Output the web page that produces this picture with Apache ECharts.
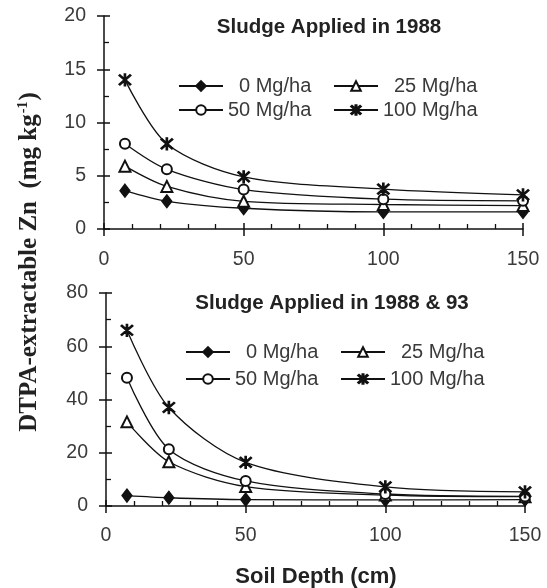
<!DOCTYPE html>
<html>
<head>
<meta charset="utf-8">
<script src="https://cdn.jsdelivr.net/npm/echarts@6/dist/echarts.min.js"></script>
<style>
  html, body { margin: 0; padding: 0; background: #fff; }
  #chart { width: 547px; height: 588px; }
</style>
</head>
<body>
<div id="chart"></div>
<script>
// soil depth of each sample (cm)
var depths = [7.5, 22.5, 50, 100, 150];
var rateNames = ['0 Mg/ha', '25 Mg/ha', '50 Mg/ha', '100 Mg/ha'];

// sludge applied in 1988 (mg/kg)
var top0 = [3.6, 2.6, 1.95, 1.6, 1.6];
var top25 = [5.9, 4.0, 2.6, 2.3, 2.2];
var top50 = [8.0, 5.6, 3.7, 2.8, 2.65];
var top100 = [14.0, 8.0, 4.9, 3.75, 3.2];

// sludge applied in 1988 & 93 (mg/kg)
var bot0 = [3.9, 3.1, 2.4, 2.3, 2.4];
var bot25 = [31.6, 16.6, 7.3, 4.1, 3.5];
var bot50 = [48.2, 21.3, 9.4, 4.5, 3.6];
var bot100 = [66.0, 37.0, 16.4, 7.2, 5.3];

var xTicks = { min: 0, max: 150, interval: 50 };
var yTicksTop = { min: 0, max: 20, interval: 5 };
var yTicksBot = { min: 0, max: 80, interval: 20 };

var ink = '#111';
var labelInk = '#3a3a3a';
var sans = '"Liberation Sans", Arial, sans-serif';
var serif = '"Liberation Serif", "Times New Roman", serif';

// asterisk marker: vertical bar plus two diagonals
var star = 'path://M9,0L11,0L11,20L9,20Z' +
  'M2.7,1.3L18.7,17.3L17.3,18.7L1.3,2.7Z' +
  'M18.7,2.7L2.7,18.7L1.3,17.3L17.3,1.3Z';

var symbols = ['diamond', 'emptyTriangle', 'emptyCircle', star];
var symSizes = [[10, 13], 11, 10, 12];

function axisPair(kind, g, ticks, minorSplit, labelMargin) {
  var base = {
    gridIndex: g, type: 'value',
    min: ticks.min, max: ticks.max, interval: ticks.interval,
    position: kind === 'x' ? 'bottom' : 'left',
    splitLine: { show: false }
  };
  var main = Object.assign({}, base, {
    axisLine: { show: true, onZero: false, lineStyle: { color: ink, width: 1.5 } },
    axisTick: { show: true, inside: true, length: 6, lineStyle: { color: ink, width: 1.5 } },
    minorTick: { show: true, splitNumber: minorSplit, length: 5, lineStyle: { color: ink, width: 1.3 } },
    axisLabel: { margin: labelMargin, fontSize: 19.5, color: labelInk, fontFamily: sans }
  });
  // second copy only draws the outward half of the major ticks
  var outer = Object.assign({}, base, {
    axisLine: { show: false, onZero: false },
    axisTick: { show: true, inside: false, length: 7, lineStyle: { color: ink, width: 1.5 } },
    axisLabel: { show: false }
  });
  return [main, outer];
}

function makeSeries(g, lists) {
  return lists.map(function (vals, i) {
    return {
      type: 'line',
      name: rateNames[i],
      xAxisIndex: g * 2,
      yAxisIndex: g * 2,
      data: depths.map(function (d, k) { return [d, vals[k]]; }),
      smooth: 0.3,
      symbol: symbols[i],
      symbolSize: symSizes[i],
      lineStyle: { color: ink, width: 1.3 },
      itemStyle: { color: ink, borderColor: ink, borderWidth: 1.3 },
      emphasis: { disabled: true },
      z: 3
    };
  });
}

function legendItem(name, left, rowY, pad) {
  return {
    data: [name],
    left: left, top: rowY - 11,
    padding: 0,
    itemWidth: 44, itemHeight: 12,
    selectedMode: false,
    textStyle: { fontSize: 20, color: labelInk, fontFamily: sans, padding: [0, 0, 0, pad] }
  };
}

var chart = echarts.init(document.getElementById('chart'), null, { renderer: 'canvas' });

chart.setOption({
  animation: false,
  backgroundColor: '#fff',
  grid: [
    { left: 104, top: 16, width: 419, height: 213, containLabel: false },
    { left: 106, top: 293, width: 419, height: 213, containLabel: false }
  ],
  xAxis: axisPair('x', 0, xTicks, 5, 21).concat(axisPair('x', 1, xTicks, 5, 20)),
  yAxis: axisPair('y', 0, yTicksTop, 2, 18).concat(axisPair('y', 1, yTicksBot, 2, 18)),
  legend: [
    legendItem(rateNames[0], 178, 87, 11),
    legendItem(rateNames[1], 333, 87, 11),
    legendItem(rateNames[2], 178, 111, 0),
    legendItem(rateNames[3], 333, 111, 0),
    legendItem(rateNames[0], 185, 353, 11),
    legendItem(rateNames[1], 340, 353, 11),
    legendItem(rateNames[2], 185, 380, 0),
    legendItem(rateNames[3], 340, 380, 0)
  ],
  graphic: [
    {
      type: 'text', x: 329, y: 27,
      style: { text: 'Sludge Applied in 1988', font: 'bold 20.5px ' + sans, fill: '#222', align: 'center', verticalAlign: 'middle' }
    },
    {
      type: 'text', x: 332, y: 303,
      style: { text: 'Sludge Applied in 1988 & 93', font: 'bold 20.5px ' + sans, fill: '#222', align: 'center', verticalAlign: 'middle' }
    },
    {
      type: 'text', x: 316, y: 577,
      style: { text: 'Soil Depth (cm)', font: 'bold 22px ' + sans, fill: '#222', align: 'center', verticalAlign: 'middle' }
    },
    {
      type: 'text', x: 30, y: 262, rotation: Math.PI / 2,
      style: {
        text: '{a|DTPA-extractable Zn  (mg kg}{s|-1}{a|)}',
        align: 'center', verticalAlign: 'middle',
        rich: {
          a: { font: 'bold 25px ' + serif, fill: '#222', lineHeight: 28 },
          s: { font: 'bold 14px ' + serif, fill: '#222', verticalAlign: 'top', lineHeight: 28, padding: [0, 1, 12, 1] }
        }
      }
    }
  ],
  series: makeSeries(0, [top0, top25, top50, top100])
    .concat(makeSeries(1, [bot0, bot25, bot50, bot100]))
});
</script>
</body>
</html>
